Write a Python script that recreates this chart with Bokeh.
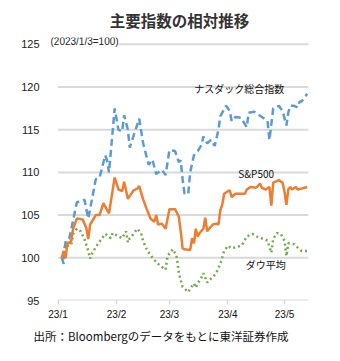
import pandas as pd
from bokeh.plotting import figure
from bokeh.models import Range1d, FixedTicker, Label, Title
from bokeh.embed import file_html
from bokeh.resources import INLINE

# ---------------- data ----------------
title_text = "主要指数の相対推移"
note_text = "(2023/1/3=100)"
source_text = "出所：Bloombergのデータをもとに東洋証券作成"
series_names = ["ナスダック総合指数", "S&P500", "ダウ平均"]
tick_days = ["01/01", "02/01", "03/01", "04/01", "05/01"]
tick_labels = ["23/1", "23/2", "23/3", "23/4", "23/5"]
y_ticks = [95, 100, 105, 110, 115, 120, 125]

nasdaq_dates = ["01/03", "01/04", "01/05", "01/07", "01/11", "01/15", "01/17", "01/21", "01/23", "01/26",
                "01/27", "01/28", "01/31", "02/02", "02/04", "02/05", "02/07", "02/08", "02/13", "02/15",
                "02/18", "02/20", "02/22", "02/25", "02/27", "03/01", "03/04", "03/06", "03/07", "03/08",
                "03/09", "03/11", "03/12", "03/14", "03/15", "03/16", "03/18", "03/19", "03/21", "03/23",
                "03/25", "03/27", "03/28", "03/31", "04/02", "04/03", "04/05", "04/08", "04/09", "04/11",
                "04/12", "04/15", "04/19", "04/22", "04/23", "04/25", "04/28", "04/30", "05/02", "05/03",
                "05/04", "05/06", "05/08", "05/09", "05/10", "05/11", "05/13"]
nasdaq_vals = [100.0, 99.3, 102.0, 102.3, 106.5, 106.8, 104.6, 109.2, 109.4, 112.0,
               111.4, 110.0, 117.5, 115.0, 114.8, 116.7, 115.0, 112.9, 116.3, 113.5,
               110.9, 111.5, 109.8, 110.3, 109.7, 112.6, 112.5, 111.2, 111.4, 109.2,
               107.5, 107.5, 110.0, 112.0, 112.3, 112.5, 113.2, 114.2, 113.4, 113.8,
               113.1, 115.0, 116.6, 117.8, 117.2, 116.0, 116.5, 116.4, 116.0, 115.3,
               117.0, 117.1, 116.5, 116.0, 113.8, 117.5, 117.8, 117.2, 115.5, 117.0,
               117.8, 117.8, 117.6, 118.3, 118.3, 118.6, 119.2]

sp_dates = ["01/03", "01/04", "01/05", "01/06", "01/07", "01/08", "01/09", "01/11", "01/14", "01/16",
            "01/17", "01/18", "01/21", "01/23", "01/25", "01/28", "01/31", "02/02", "02/04", "02/05",
            "02/07", "02/10", "02/12", "02/13", "02/15", "02/17", "02/19", "02/21", "02/22", "02/23",
            "02/25", "02/27", "03/01", "03/04", "03/06", "03/07", "03/08", "03/09", "03/12", "03/13",
            "03/14", "03/15", "03/16", "03/17", "03/19", "03/20", "03/21", "03/22", "03/24", "03/26",
            "03/27", "03/28", "03/29", "03/30", "04/01", "04/02", "04/03", "04/05", "04/08", "04/10",
            "04/11", "04/13", "04/16", "04/18", "04/19", "04/21", "04/23", "04/24", "04/25", "04/28",
            "04/30", "05/01", "05/02", "05/03", "05/04", "05/05", "05/07", "05/08", "05/10", "05/13"]
sp_vals = [100.0, 100.8, 100.0, 101.8, 101.7, 102.0, 103.4, 104.6, 104.5, 103.5,
           102.2, 103.9, 105.0, 105.0, 106.4, 105.2, 109.4, 108.0, 107.8, 108.9,
           106.9, 107.9, 108.1, 108.4, 106.9, 105.7, 104.6, 104.2, 105.0, 103.9,
           104.0, 103.4, 105.7, 105.7, 104.8, 103.1, 101.1, 101.0, 100.9, 102.3,
           101.7, 103.4, 102.5, 102.9, 103.4, 104.7, 103.1, 103.4, 103.9, 104.0,
           103.9, 105.6, 106.2, 107.5, 107.8, 107.9, 107.1, 107.5, 107.5, 107.5,
           108.0, 108.3, 108.2, 108.7, 108.2, 108.0, 108.3, 106.1, 108.8, 109.1,
           108.8, 107.7, 106.2, 108.0, 108.3, 108.0, 108.3, 108.0, 108.1, 108.3]

dow_dates = ["01/03", "01/04", "01/05", "01/06", "01/08", "01/09", "01/11", "01/13", "01/15", "01/17",
             "01/18", "01/19", "01/22", "01/24", "01/26", "01/29", "01/30", "02/02", "02/04", "02/06",
             "02/07", "02/08", "02/09", "02/12", "02/14", "02/15", "02/17", "02/19", "02/22", "02/24",
             "02/27", "02/28", "03/02", "03/03", "03/05", "03/06", "03/08", "03/11", "03/12", "03/14",
             "03/15", "03/16", "03/18", "03/19", "03/21", "03/22", "03/24", "03/26", "03/28", "03/30",
             "04/01", "04/03", "04/06", "04/08", "04/09", "04/11", "04/14", "04/17", "04/20", "04/22",
             "04/24", "04/25", "04/27", "04/29", "05/01", "05/02", "05/03", "05/06", "05/08", "05/10",
             "05/13"]
dow_vals = [100.0, 101.0, 101.5, 101.4, 101.5, 102.8, 103.4, 103.1, 102.2, 100.8,
            99.9, 100.5, 101.6, 102.2, 102.8, 102.3, 102.9, 102.5, 102.3, 103.1,
            101.8, 102.3, 102.5, 103.4, 102.9, 102.0, 101.0, 100.3, 99.5, 99.1,
            98.6, 100.2, 100.8, 101.0, 100.0, 98.2, 96.6, 96.0, 96.4, 97.0,
            96.5, 97.0, 97.7, 98.2, 97.1, 97.4, 97.7, 98.3, 99.3, 100.8,
            101.4, 101.1, 101.3, 101.4, 101.7, 102.5, 102.8, 102.4, 102.2, 102.0,
            100.6, 102.2, 102.9, 102.8, 102.0, 100.2, 101.7, 101.6, 101.2, 100.8,
            100.8]

# ---------------- helpers ----------------
origin = pd.Timestamp("2023-01-01")


def to_days(dates):
    return [(pd.to_datetime("2023/" + d, format="%Y/%m/%d") - origin).days for d in dates]


JP = "'Noto Sans CJK JP'"
LAT = "'Liberation Sans', Arial"

X_END = 132.7
p = figure(width=340, height=361, output_backend="svg", toolbar_location=None,
           x_range=Range1d(-4.0, X_END), y_range=Range1d(95, 125.8),
           min_border_left=50, min_border_right=32, min_border_top=32, min_border_bottom=61)
p.outline_line_color = None
p.background_fill_color = "white"
p.border_fill_color = "white"

# title (above) and source (below)
p.title = Title(text=title_text, align="center", text_font=JP, text_font_size="15.5px",
                text_font_style="bold", text_color="#333333", standoff=12.5, offset=3)
p.add_layout(Title(text=source_text, align="left", offset=-17, text_font=JP,
                   text_font_size="11.5px", text_font_style="normal",
                   text_color="#111111", standoff=6), "below")

# horizontal grid lines (incl. the 95 base line), starting at 23/1
p.xgrid.grid_line_color = None
p.ygrid.grid_line_color = None
p.segment(x0=[0] * len(y_ticks), x1=[X_END] * len(y_ticks), y0=y_ticks, y1=y_ticks,
          line_color="#d9d9d9", line_width=2)

# y axis
p.yaxis.ticker = FixedTicker(ticks=y_ticks)
p.yaxis.axis_line_color = None
p.yaxis.major_tick_line_color = None
p.yaxis.minor_tick_line_color = None
p.yaxis.major_label_text_font = LAT
p.yaxis.major_label_text_font_size = "11px"
p.yaxis.major_label_text_color = "#222222"
p.yaxis.major_label_standoff = 5

# x axis
tick_vals = to_days(tick_days)
p.xaxis.ticker = FixedTicker(ticks=tick_vals)
p.xaxis.major_label_overrides = {v: t for v, t in zip(tick_vals, tick_labels)}
p.xaxis.axis_line_color = None
p.xaxis.major_tick_line_color = "#d9d9d9"
p.xaxis.major_tick_line_width = 1.5
p.xaxis.major_tick_in = 0
p.xaxis.major_tick_out = 4
p.xaxis.minor_tick_line_color = None
p.xaxis.major_label_text_font = LAT
p.xaxis.major_label_text_font_size = "10px"
p.xaxis.major_label_text_color = "#111111"
p.xaxis.major_label_standoff = 4

# series
p.line(to_days(nasdaq_dates), nasdaq_vals, line_color="#5B9BD5", line_width=2.5, line_dash="7 4")
p.line(to_days(dow_dates), dow_vals, line_color="#70AD47", line_width=2.5, line_dash="2 3")
p.line(to_days(sp_dates), sp_vals, line_color="#ED7D31", line_width=2.5)

# series labels
lab_pos = [(96, 119.8), (105, 109.9), (110, 99.2)]
for name, (lx, ly) in zip(series_names, lab_pos):
    p.add_layout(Label(x=lx, y=ly, text=name, text_align="center", text_baseline="middle",
                       text_font=JP, text_font_size="10px", text_color="#111111"))

# note next to 125
p.add_layout(Label(x=0, y=259, x_units="screen", y_units="screen", text=note_text,
                   text_align="left", text_baseline="middle", text_font=LAT,
                   text_font_size="10px", text_color="#222222",
                   background_fill_color="white"))

open("out.html", "w").write(file_html(p, INLINE))
